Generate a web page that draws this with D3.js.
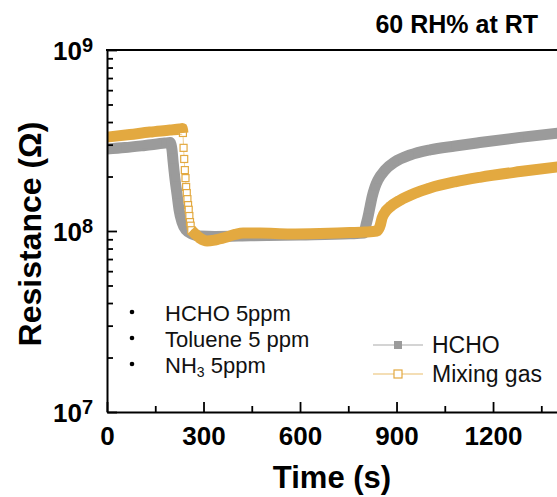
<!DOCTYPE html>
<html>
<head>
<meta charset="utf-8">
<script src="https://cdn.jsdelivr.net/npm/d3@7"></script>
<style>
  html, body { margin: 0; padding: 0; background: #fff; }
  svg { display: block; font-family: Arial, "Liberation Sans", Helvetica, sans-serif; }
</style>
</head>
<body>
<svg id="chart" width="557" height="497"></svg>
<script>
// HCHO response (time in s, resistance in ohm)
const hchoTime = [0, 56, 118, 180, 196, 202, 205, 211, 218, 224, 233, 246, 264, 289, 336, 445, 600, 755, 799,
  805, 811, 818, 824, 833, 842, 864, 895, 942, 1004, 1082, 1159, 1284, 1408];
const hchoRes = [2.84e8, 2.89e8, 2.97e8, 3.06e8, 3.08e8, 2.81e8, 2.47e8, 1.96e8, 1.58e8, 1.31e8, 1.12e8, 1.01e8,
  9.63e7, 9.38e7, 9.33e7, 9.4e7, 9.5e7, 9.65e7, 9.75e7,
  1.08e8, 1.19e8, 1.37e8, 1.54e8, 1.75e8, 1.91e8, 2.17e8, 2.41e8, 2.63e8, 2.81e8, 2.95e8, 3.08e8, 3.29e8, 3.48e8];

// Mixing gas response (time in s, resistance in ohm)
const mixTime = [0, 71, 133, 196, 227, 234,
  236, 238, 240, 242, 244, 246, 248, 250, 252, 254, 256, 258, 260, 262,
  274, 289, 311, 336, 367, 398, 423, 476, 569, 662, 755, 802, 839,
  849, 855, 867, 880, 911, 958, 1004, 1082, 1159, 1284, 1408];
const mixRes = [3.30e8, 3.41e8, 3.52e8, 3.61e8, 3.66e8, 3.68e8,
  3.48e8, 2.88e8, 2.50e8, 2.17e8, 1.96e8, 1.75e8, 1.62e8, 1.50e8, 1.39e8, 1.31e8, 1.21e8, 1.12e8, 1.07e8, 1.01e8,
  9.63e7, 9.14e7, 8.81e7, 8.92e7, 9.20e7, 9.57e7, 9.75e7, 9.75e7, 9.63e7, 9.69e7, 9.81e7, 9.87e7, 1.00e8,
  1.07e8, 1.18e8, 1.29e8, 1.36e8, 1.48e8, 1.62e8, 1.73e8, 1.87e8, 1.98e8, 2.13e8, 2.27e8];
// fast switching window where single samples are resolved
const mixFastWindow = [236, 262];

const xMajorTicks = [0, 300, 600, 900, 1200];
const xMinorTicks = [150, 450, 750, 1050, 1350];
const yMajorTicks = [1e7, 1e8, 1e9];
const yMinorTicks = [2e7, 3e7, 4e7, 5e7, 6e7, 7e7, 8e7, 9e7, 2e8, 3e8, 4e8, 5e8, 6e8, 7e8, 8e8, 9e8];
const gasList = ["HCHO 5ppm", "Toluene 5 ppm", "NH3 5ppm"];
const seriesNames = ["HCHO", "Mixing gas"];

const grayColor = "#9b9b9b";
const goldColor = "#e3a940";

const svg = d3.select("#chart");
const plotLeft = 107, plotTop = 50, plotBottom = 412;
const x = d3.scaleLinear().domain([0, 1500]).range([plotLeft, plotLeft + 1500 * 0.3217]);
const y = d3.scaleLog().domain([1e7, 1e9]).range([plotBottom, plotTop]);

svg.append("rect").attr("width", 557).attr("height", 497).attr("fill", "#fff");

svg.append("defs").append("clipPath").attr("id", "plotClip")
  .append("rect").attr("x", plotLeft).attr("y", plotTop).attr("width", 600).attr("height", plotBottom - plotTop);

const hcho = hchoTime.map((t, i) => ({ t, r: hchoRes[i] }));
const mix = mixTime.map((t, i) => ({ t, r: mixRes[i] }));

const plot = svg.append("g").attr("clip-path", "url(#plotClip)");
const line = d3.line().x(d => x(d.t)).y(d => y(d.r)).curve(d3.curveMonotoneX);

// HCHO: dense filled squares merge into a solid band
plot.append("path").datum(hcho).attr("d", line)
  .attr("fill", "none").attr("stroke", grayColor).attr("stroke-width", 11)
  .attr("stroke-linejoin", "round");
plot.append("g").selectAll("rect").data(hcho).join("rect")
  .attr("x", d => x(d.t) - 3.5).attr("y", d => y(d.r) - 3.5)
  .attr("width", 7).attr("height", 7).attr("fill", grayColor);

// Mixing gas: thin connecting line, hollow squares, band where samples overlap
plot.append("path").datum(mix).attr("d", line)
  .attr("fill", "none").attr("stroke", "#efcf92").attr("stroke-width", 1);
plot.append("g").selectAll("rect").data(mix).join("rect")
  .attr("x", d => x(d.t) - 3.5).attr("y", d => y(d.r) - 3.5)
  .attr("width", 7).attr("height", 7).attr("fill", "#fff")
  .attr("stroke", goldColor).attr("stroke-width", 1.2);
const bandLine = d3.line().x(d => x(d.t)).y(d => y(d.r)).curve(d3.curveMonotoneX)
  .defined(d => d.t <= mixFastWindow[0] || d.t >= mixFastWindow[1]);
plot.append("path").datum(mix).attr("d", bandLine)
  .attr("fill", "none").attr("stroke", goldColor).attr("stroke-width", 11)
  .attr("stroke-linejoin", "round");

// Axes
const axisStyle = g => {
  g.select(".domain").attr("stroke", "#000").attr("stroke-width", 2);
  g.selectAll(".tick line").attr("stroke", "#000").attr("stroke-width", 1.8);
};

svg.append("g").attr("transform", `translate(0,${plotBottom})`)
  .call(d3.axisBottom(x).tickValues(xMinorTicks).tickSize(-6).tickSizeOuter(0).tickFormat(""))
  .call(axisStyle).call(g => g.select(".domain").remove());
svg.append("g").attr("transform", `translate(0,${plotBottom})`)
  .call(d3.axisBottom(x).tickValues(xMajorTicks).tickSize(-10).tickSizeOuter(0).tickPadding(0).tickFormat(d3.format("d")))
  .call(axisStyle)
  .call(g => g.selectAll(".tick text").attr("y", 33).attr("dy", null)
    .attr("font-size", 26).attr("font-weight", "bold").attr("fill", "#000")
    .attr("font-family", "Arial, 'Liberation Sans', sans-serif"));

svg.append("g").attr("transform", `translate(${plotLeft},0)`)
  .call(d3.axisLeft(y).tickValues(yMinorTicks).tickSize(-6).tickSizeOuter(0).tickFormat(""))
  .call(axisStyle).call(g => g.select(".domain").remove());
svg.append("g").attr("transform", `translate(${plotLeft},0)`)
  .call(d3.axisLeft(y).tickValues(yMajorTicks).tickSize(-10).tickSizeOuter(0).tickFormat(""))
  .call(axisStyle);

// Top frame line
svg.append("line").attr("x1", plotLeft - 1).attr("x2", 557).attr("y1", plotTop).attr("y2", plotTop)
  .attr("stroke", "#000").attr("stroke-width", 2);

// Power-of-ten labels
const yLab = svg.append("g").attr("font-weight", "bold").attr("fill", "#000");
yMajorTicks.forEach(v => {
  const t = yLab.append("text").attr("x", 93).attr("y", y(v) + 10).attr("text-anchor", "end");
  t.append("tspan").attr("font-size", 26).text("10");
  t.append("tspan").attr("font-size", 20).attr("dy", -8).text(Math.round(Math.log10(v)));
});

// Axis titles
svg.append("text").attr("x", 332).attr("y", 488).attr("text-anchor", "middle")
  .attr("font-size", 31).attr("font-weight", "bold").text("Time (s)");
svg.append("text").attr("transform", "translate(41,234) rotate(-90)").attr("text-anchor", "middle")
  .attr("font-size", 32).attr("font-weight", "bold").text("Resistance (Ω)");

// Condition note
svg.append("text").attr("x", 538).attr("y", 33).attr("text-anchor", "end")
  .attr("font-size", 25).attr("font-weight", "bold").text("60 RH% at RT");

// Gas list
const gasG = svg.append("g").attr("font-size", 22).attr("fill", "#111");
gasList.forEach((s, i) => {
  const by = 321 + i * 26;
  gasG.append("circle").attr("cx", 132).attr("cy", by - 9).attr("r", 2.3).attr("fill", "#000");
  const t = gasG.append("text").attr("x", 165).attr("y", by);
  const m = s.match(/^(NH)(3)(.*)$/);
  if (m) {
    t.append("tspan").text(m[1]);
    t.append("tspan").attr("font-size", 14).attr("dy", 4).text(m[2]);
    t.append("tspan").attr("dy", -4).text(m[3]);
  } else {
    t.text(s);
  }
});

// Series legend
const leg = svg.append("g");
const legRows = [
  { name: seriesNames[0], y: 345, line: "#c6c6c6", fill: grayColor, stroke: "none" },
  { name: seriesNames[1], y: 374, line: "#f0d39c", fill: "#fff", stroke: goldColor }
];
legRows.forEach(r => {
  leg.append("line").attr("x1", 373).attr("x2", 423).attr("y1", r.y).attr("y2", r.y)
    .attr("stroke", r.line).attr("stroke-width", 1.5);
  leg.append("rect").attr("x", 398 - 4).attr("y", r.y - 4).attr("width", 8).attr("height", 8)
    .attr("fill", r.fill).attr("stroke", r.stroke).attr("stroke-width", 1.2);
  leg.append("text").attr("x", 432).attr("y", r.y + 8).attr("font-size", 23).attr("fill", "#111").text(r.name);
});
</script>
</body>
</html>
